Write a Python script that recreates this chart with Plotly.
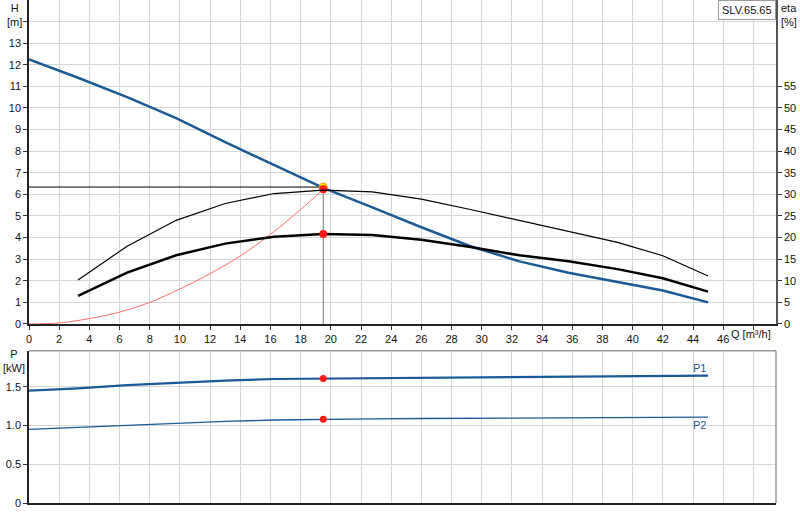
import plotly.graph_objects as go

# ---------------- data ----------------
q_h = [0, 3.25, 6.5, 9.75, 13.0, 16.25, 19.5, 22.75, 26.0, 29.25, 32.5, 35.75, 39.0, 42.0, 45.0]
h_vals = [12.25, 11.4, 10.5, 9.53, 8.42, 7.35, 6.3, 5.4, 4.48, 3.6, 2.9, 2.37, 1.93, 1.55, 1.0]

q_eta = [3.25, 6.5, 9.75, 13.0, 16.25, 19.5, 22.75, 26.0, 29.25, 32.5, 35.75, 39.0, 42.0, 45.0]
eta_hyd = [10.2, 18.0, 24.0, 27.9, 30.2, 31.0, 30.6, 28.9, 26.5, 24.0, 21.5, 18.9, 15.8, 11.1]
eta_tot = [6.5, 11.9, 15.9, 18.6, 20.2, 20.85, 20.6, 19.5, 17.8, 15.9, 14.5, 12.7, 10.6, 7.5]

q_sys = [0, 2, 4, 6, 8, 10, 12, 14, 16, 18, 19.5]
h_sys = [0, 0.05, 0.25, 0.55, 1.0, 1.62, 2.33, 3.15, 4.15, 5.3, 6.24]

q_p = [0, 3.25, 6.5, 9.75, 13.0, 16.25, 19.5, 22.75, 26.0, 29.25, 32.5, 35.75, 39.0, 42.0, 45.0]
p1_vals = [1.45, 1.48, 1.52, 1.55, 1.58, 1.60, 1.605, 1.61, 1.615, 1.62, 1.625, 1.632, 1.638, 1.642, 1.643]
p2_vals = [0.95, 0.975, 1.0, 1.03, 1.053, 1.07, 1.08, 1.085, 1.09, 1.093, 1.097, 1.101, 1.105, 1.107, 1.108]

duty_q = 19.5
duty_h_req = 6.34
duty_h = 6.24
duty_eta = 20.85
duty_p1 = 1.605
duty_p2 = 1.08

x_ticks = list(range(0, 50, 2))
x_ticktext = [str(v) if v <= 46 else "" for v in x_ticks]
h_ticks = list(range(0, 15))
h_ticktext = [str(v) if v <= 13 else "" for v in h_ticks]
eta_ticks = list(range(0, 60, 5))
p_ticks = [0, 0.5, 1.0, 1.5]
p_ticktext = ["0", "0.5", "1.0", "1.5"]

BLUE = "#1a5a96"
GRID = "#d6d6d6"
FONT = "Liberation Sans, Arial, sans-serif"

fig = go.Figure()

# duty helper lines
fig.add_trace(go.Scatter(x=[0, duty_q], y=[duty_h_req, duty_h_req], mode="lines",
                         line=dict(color="black", width=1), xaxis="x", yaxis="y", hoverinfo="skip"))
fig.add_trace(go.Scatter(x=[duty_q, duty_q], y=[0, duty_h], mode="lines",
                         line=dict(color="#7a7a7a", width=1), xaxis="x", yaxis="y", hoverinfo="skip"))

# system curve
fig.add_trace(go.Scatter(x=q_sys, y=h_sys, mode="lines", line=dict(color="#ff6b6b", width=1, shape="spline"),
                         xaxis="x", yaxis="y"))
# efficiency curves
fig.add_trace(go.Scatter(x=q_eta, y=eta_hyd, mode="lines", line=dict(color="black", width=1.2),
                         xaxis="x", yaxis="y2"))
fig.add_trace(go.Scatter(x=q_eta, y=eta_tot, mode="lines", line=dict(color="black", width=2.5),
                         xaxis="x", yaxis="y2"))
# pump curve
fig.add_trace(go.Scatter(x=q_h, y=h_vals, mode="lines", line=dict(color=BLUE, width=2.5),
                         xaxis="x", yaxis="y"))

# duty points
fig.add_trace(go.Scatter(x=[duty_q], y=[duty_h_req], mode="markers",
                         marker=dict(color="#ffe000", size=8, line=dict(color="#ff9900", width=1)),
                         xaxis="x", yaxis="y"))
fig.add_trace(go.Scatter(x=[duty_q], y=[duty_h], mode="markers",
                         marker=dict(color="#ff1a1a", size=8), xaxis="x", yaxis="y"))
fig.add_trace(go.Scatter(x=[duty_q], y=[duty_eta], mode="markers",
                         marker=dict(color="#ff1a1a", size=8), xaxis="x", yaxis="y2"))

# power curves
fig.add_trace(go.Scatter(x=q_p, y=p1_vals, mode="lines", line=dict(color=BLUE, width=2.2),
                         xaxis="x2", yaxis="y3"))
fig.add_trace(go.Scatter(x=q_p, y=p2_vals, mode="lines", line=dict(color=BLUE, width=1.4),
                         xaxis="x2", yaxis="y3"))
fig.add_trace(go.Scatter(x=[duty_q, duty_q], y=[duty_p1, duty_p2], mode="markers",
                         marker=dict(color="#ff1a1a", size=7), xaxis="x2", yaxis="y3"))

axis_font = dict(family=FONT, size=11, color="#111")

fig.update_layout(
    width=800, height=520,
    margin=dict(l=29, r=24, t=0, b=17),
    paper_bgcolor="white", plot_bgcolor="white",
    showlegend=False,
    font=dict(family=FONT, size=11, color="#111"),
    xaxis=dict(domain=[0, 1], anchor="y", range=[0, 49.5], tickvals=x_ticks, ticktext=x_ticktext,
               ticks="outside", ticklen=4, tickcolor="#333", showline=True, linecolor="#222", linewidth=1.5,
               showgrid=True, gridcolor=GRID, gridwidth=1, zeroline=False, tickfont=axis_font),
    yaxis=dict(domain=[0.3559, 1], anchor="x", range=[0, 15], tickvals=h_ticks, ticktext=h_ticktext,
               ticks="outside", ticklen=4, tickcolor="#333", showline=True, linecolor="#222", linewidth=1.5,
               showgrid=True, gridcolor=GRID, gridwidth=1, zeroline=False, tickfont=axis_font),
    yaxis2=dict(overlaying="y", side="right", anchor="x", range=[0, 75], tickvals=eta_ticks,
                ticks="outside", ticklen=4, tickcolor="#333", showline=True, linecolor="#555", linewidth=1.5,
                showgrid=False, zeroline=False, tickfont=axis_font),
    xaxis2=dict(domain=[0, 1], anchor="y3", range=[0, 49.5], tickvals=x_ticks, showticklabels=False,
                ticks="", showline=True, linecolor="#222", linewidth=1.5,
                showgrid=True, gridcolor=GRID, gridwidth=1, zeroline=False),
    yaxis3=dict(domain=[0, 0.3028], anchor="x2", range=[0, 1.965], tickvals=p_ticks, ticktext=p_ticktext,
                ticks="outside", ticklen=4, tickcolor="#333", showline=True, linecolor="#222", linewidth=1.5,
                showgrid=True, gridcolor=GRID, gridwidth=1, zeroline=False, tickfont=axis_font),
    shapes=[
        dict(type="line", xref="x2 domain", yref="y3 domain", x0=0, x1=1, y0=1, y1=1,
             line=dict(color="#999", width=1.5)),
        dict(type="line", xref="x2 domain", yref="y3 domain", x0=1, x1=1, y0=0, y1=1,
             line=dict(color="#999", width=1.5)),
    ],
    annotations=[
        dict(text="H<br>[m]", xref="paper", yref="paper", x=-0.02, y=1.0, xanchor="center", yanchor="top",
             showarrow=False, font=dict(family=FONT, size=11, color="#111"), align="center"),
        dict(text="eta<br>[%]", xref="paper", yref="paper", x=1.004, y=1.0, xanchor="left", yanchor="top",
             showarrow=False, font=dict(family=FONT, size=11, color="#111"), align="left"),
        dict(text="Q [m³/h]", xref="x", yref="paper", x=49.3, y=0.3559, xanchor="right", yanchor="top",
             yshift=-2, showarrow=False, font=dict(family=FONT, size=11, color="#111")),
        dict(text="P<br>[kW]", xref="paper", yref="paper", x=-0.02, y=0.312, xanchor="center", yanchor="top",
             showarrow=False, font=dict(family=FONT, size=11, color="#111"), align="center"),
        dict(text="SLV.65.65", xref="x domain", yref="paper", x=1, y=1, xanchor="right", yanchor="top",
             showarrow=False, font=dict(family=FONT, size=11, color="#111"),
             bgcolor="white", bordercolor="#9a9a9a", borderwidth=1, borderpad=3),
        dict(text="P1", xref="x2", yref="y3", x=q_p[-1], y=p1_vals[-1], xanchor="right", yanchor="bottom",
             showarrow=False, font=dict(family=FONT, size=11, color=BLUE)),
        dict(text="P2", xref="x2", yref="y3", x=q_p[-1], y=p2_vals[-1], xanchor="right", yanchor="top",
             showarrow=False, font=dict(family=FONT, size=11, color=BLUE)),
    ],
)

fig.write_html("out.html", config={"displayModeBar": False},
               post_script="document.body.style.margin='0px';document.body.style.overflow='hidden';")
